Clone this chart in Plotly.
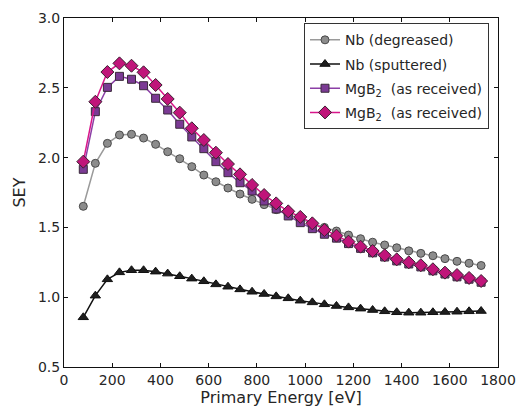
import plotly.graph_objects as go

energy = [80, 130, 180, 230, 280, 330, 380, 430, 480, 530, 580, 630, 680, 730, 780, 830,
          880, 930, 980, 1030, 1080, 1130, 1180, 1230, 1280, 1330, 1380, 1430, 1480, 1530,
          1580, 1630, 1680, 1730]

nb_degreased = [1.651, 1.959, 2.102, 2.162, 2.167, 2.140, 2.095, 2.042, 1.992, 1.935,
                1.875, 1.827, 1.782, 1.739, 1.701, 1.663, 1.627, 1.592, 1.560, 1.528,
                1.500, 1.474, 1.445, 1.419, 1.394, 1.374, 1.354, 1.332, 1.314, 1.297,
                1.276, 1.257, 1.243, 1.227]

nb_sputtered = [0.856, 1.011, 1.128, 1.178, 1.193, 1.193, 1.183, 1.169, 1.150, 1.133,
                1.114, 1.092, 1.075, 1.056, 1.039, 1.023, 1.006, 0.992, 0.975, 0.963,
                0.949, 0.937, 0.927, 0.918, 0.908, 0.899, 0.892, 0.889, 0.889, 0.892,
                0.894, 0.896, 0.899, 0.901]

mgb2_a = [1.916, 2.329, 2.503, 2.582, 2.561, 2.515, 2.425, 2.341, 2.239, 2.148,
          2.064, 1.971, 1.892, 1.820, 1.761, 1.689, 1.632, 1.582, 1.534, 1.491,
          1.451, 1.423, 1.384, 1.350, 1.318, 1.288, 1.260, 1.238, 1.217, 1.189,
          1.166, 1.146, 1.129, 1.107]

mgb2_b = [1.971, 2.400, 2.613, 2.675, 2.658, 2.611, 2.520, 2.420, 2.322, 2.210,
          2.126, 2.035, 1.954, 1.880, 1.804, 1.732, 1.672, 1.615, 1.575, 1.529,
          1.481, 1.441, 1.398, 1.362, 1.331, 1.300, 1.271, 1.250, 1.229, 1.200,
          1.176, 1.159, 1.138, 1.116]

names = ["Nb (degreased)", "Nb (sputtered)",
         "MgB<sub>2</sub>  (as received)", "MgB<sub>2</sub>  (as received)"]

fig = go.Figure()
fig.add_trace(go.Scatter(x=energy, y=nb_degreased, name=names[0], mode="lines+markers",
                         legendgroup="a",
                         line=dict(color="#9a9a9a", width=1.5),
                         marker=dict(symbol="circle", size=8, color="#8c8c8c",
                                     line=dict(color="#4a4a4a", width=1))))
fig.add_trace(go.Scatter(x=energy, y=nb_sputtered, name=names[1], mode="lines+markers",
                         legendgroup="b",
                         line=dict(color="#111111", width=1.5),
                         marker=dict(symbol="triangle-up", size=9, color="#1e1e1e",
                                     line=dict(color="#111111", width=1))))
fig.add_trace(go.Scatter(x=energy, y=mgb2_a, name=names[2], mode="lines+markers",
                         legendgroup="c",
                         line=dict(color="#8b3fa6", width=1.5),
                         marker=dict(symbol="square", size=8, color="#7b3a94",
                                     line=dict(color="#3a2a3a", width=1))))
fig.add_trace(go.Scatter(x=energy, y=mgb2_b, name=names[3], mode="lines+markers",
                         legendgroup="d",
                         line=dict(color="#d8168a", width=1.5),
                         marker=dict(symbol="diamond", size=10, color="#c0157a",
                                     line=dict(color="#3a2030", width=1))))

axis_common = dict(showline=True, linecolor="#111111", linewidth=1, mirror="ticks",
                   ticks="inside", ticklen=4, tickcolor="#111111", showgrid=False,
                   zeroline=False, automargin=False,
                   tickfont=dict(family="DejaVu Sans", size=14, color="#262626"))

fig.update_xaxes(range=[0, 1800], dtick=200, title=dict(text="Primary Energy [eV]",
                 font=dict(family="DejaVu Sans", size=16, color="#262626"), standoff=2),
                 **axis_common)
fig.update_yaxes(range=[0.5, 3.0], dtick=0.5, tickformat=".1f",
                 title=dict(text="SEY", font=dict(family="DejaVu Sans", size=16, color="#262626"),
                            standoff=8),
                 **axis_common)

fig.update_layout(
    width=520, height=411,
    autosize=False,
    margin=dict(l=64, r=22, t=18, b=44, autoexpand=False),
    plot_bgcolor="white", paper_bgcolor="white",
    font=dict(family="DejaVu Sans", color="#262626"),
    legend=dict(x=0.553, y=0.985, xanchor="left", yanchor="top",
                bordercolor="#333333", borderwidth=1, bgcolor="white",
                font=dict(family="DejaVu Sans", size=14, color="#262626"),
                tracegroupgap=3, itemwidth=30),
    showlegend=True,
)

fig.write_html("out.html", config={"displayModeBar": False},
               post_script="document.body.style.margin='0';document.body.style.overflow='hidden';")
